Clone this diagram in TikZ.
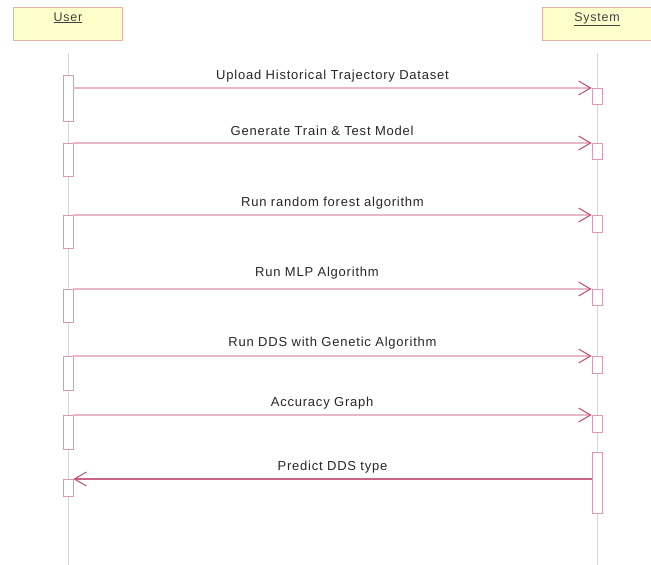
\documentclass[tikz,border=0pt]{standalone}
\usepackage{fontspec}
\setmainfont{Liberation Sans}[LetterSpace=6]
\usetikzlibrary{arrows.meta}

\definecolor{headfill}{HTML}{FFFFCC}
\definecolor{headline}{HTML}{E8B4A4}
\definecolor{lifegray}{HTML}{D4D4D4}
\definecolor{barline}{HTML}{DC9AB2}
\definecolor{msgline}{HTML}{E8B8C8}
\definecolor{msgtip}{HTML}{C04874}
\definecolor{retline}{HTML}{C86484}

\tikzset{
  header/.style={draw=headline,fill=headfill,line width=1pt,inner sep=0pt,
    minimum width=109pt,minimum height=33pt,anchor=north west},
  headname/.style={anchor=north,font=\fontsize{12.5}{14}\selectfont,text=black!75},
  actbar/.style={draw=barline,fill=white,line width=0.9pt,inner sep=0pt,
    minimum width=10pt,anchor=north},
  msg/.style={msgline,line width=1.2pt,
    -{Straight Barb[length=12pt,width=14pt,color=msgtip,line width=1pt]}},
  reply/.style={retline,line width=1.2pt,
    -{Straight Barb[length=12pt,width=14pt,color=msgtip,line width=1pt]}},
  msglabel/.style={font=\fontsize{13}{15}\selectfont,text=black!85,inner sep=0pt},
  lifeline/.style={lifegray,line width=1.6pt}
}

\begin{document}
\begin{tikzpicture}[x=1pt,y=-1pt]

	\useasboundingbox (0,0) rectangle (651,565);
	
	
	% lifelines
	\coordinate (userTop) at (68.5,53);
	\coordinate (userBot) at (68.5,565);
	\coordinate (sysTop) at (597.5,53);
	\coordinate (sysBot) at (597.5,565);
	\draw[lifeline] (userTop) -- (userBot);
	\draw[lifeline] (sysTop) -- (sysBot);
	
	
	% heads
	\node[header] (userHead) at (13,7) {};
	\node[headname] (userName) at (68,9) {\underline{User}};
	\node[header] (sysHead) at (542,7) {};
	\node[headname] (sysName) at (597,9) {\underline{System}};
	
	
	% activation bars of the user
	\node[actbar,minimum height=46pt] (u1) at (68,75) {};
	\node[actbar,minimum height=33pt] (u2) at (68,143) {};
	\node[actbar,minimum height=33pt] (u3) at (68,215) {};
	\node[actbar,minimum height=33pt] (u4) at (68,289) {};
	\node[actbar,minimum height=34pt] (u5) at (68,356) {};
	\node[actbar,minimum height=34pt] (u6) at (68,415) {};
	\node[actbar,minimum height=17pt] (u7) at (68,479) {};
	
	
	% activation bars of the system
	\node[actbar,minimum height=16pt] (s1) at (597,88) {};
	\node[actbar,minimum height=16pt] (s2) at (597,143) {};
	\node[actbar,minimum height=17pt] (s3) at (597,215) {};
	\node[actbar,minimum height=16pt] (s4) at (597,289) {};
	\node[actbar,minimum height=17pt] (s5) at (597,356) {};
	\node[actbar,minimum height=17pt] (s6) at (597,415) {};
	\node[actbar,minimum height=61pt] (s7) at (597,452) {};
	
	
	% messages
	\draw[msg] (u1.east |- s1.north) -- (s1.north west)
		node[msglabel,pos=0.5,above=5pt] (m1) {Upload Historical Trajectory Dataset};
	\draw[msg] (u2.north east) -- (s2.north west)
		node[msglabel,pos=0.48,above=7pt] (m2) {Generate Train \& Test Model};
	\draw[msg] (u3.north east) -- (s3.north west)
		node[msglabel,pos=0.5,above=5pt] (m3) {Run random forest algorithm};
	\draw[msg] (u4.north east) -- (s4.north west)
		node[msglabel,pos=0.47,above=9pt] (m4) {Run MLP Algorithm};
	\draw[msg] (u5.north east) -- (s5.north west)
		node[msglabel,pos=0.5,above=6pt] (m5) {Run DDS with Genetic Algorithm};
	\draw[msg] (u6.north east) -- (s6.north west)
		node[msglabel,pos=0.48,above=5pt] (m6) {Accuracy Graph};
	\draw[reply] (s7.west |- u7.north) -- (u7.north east)
		node[msglabel,pos=0.5,above=5pt] (m7) {Predict DDS type};
	
	
\end{tikzpicture}
\end{document}
